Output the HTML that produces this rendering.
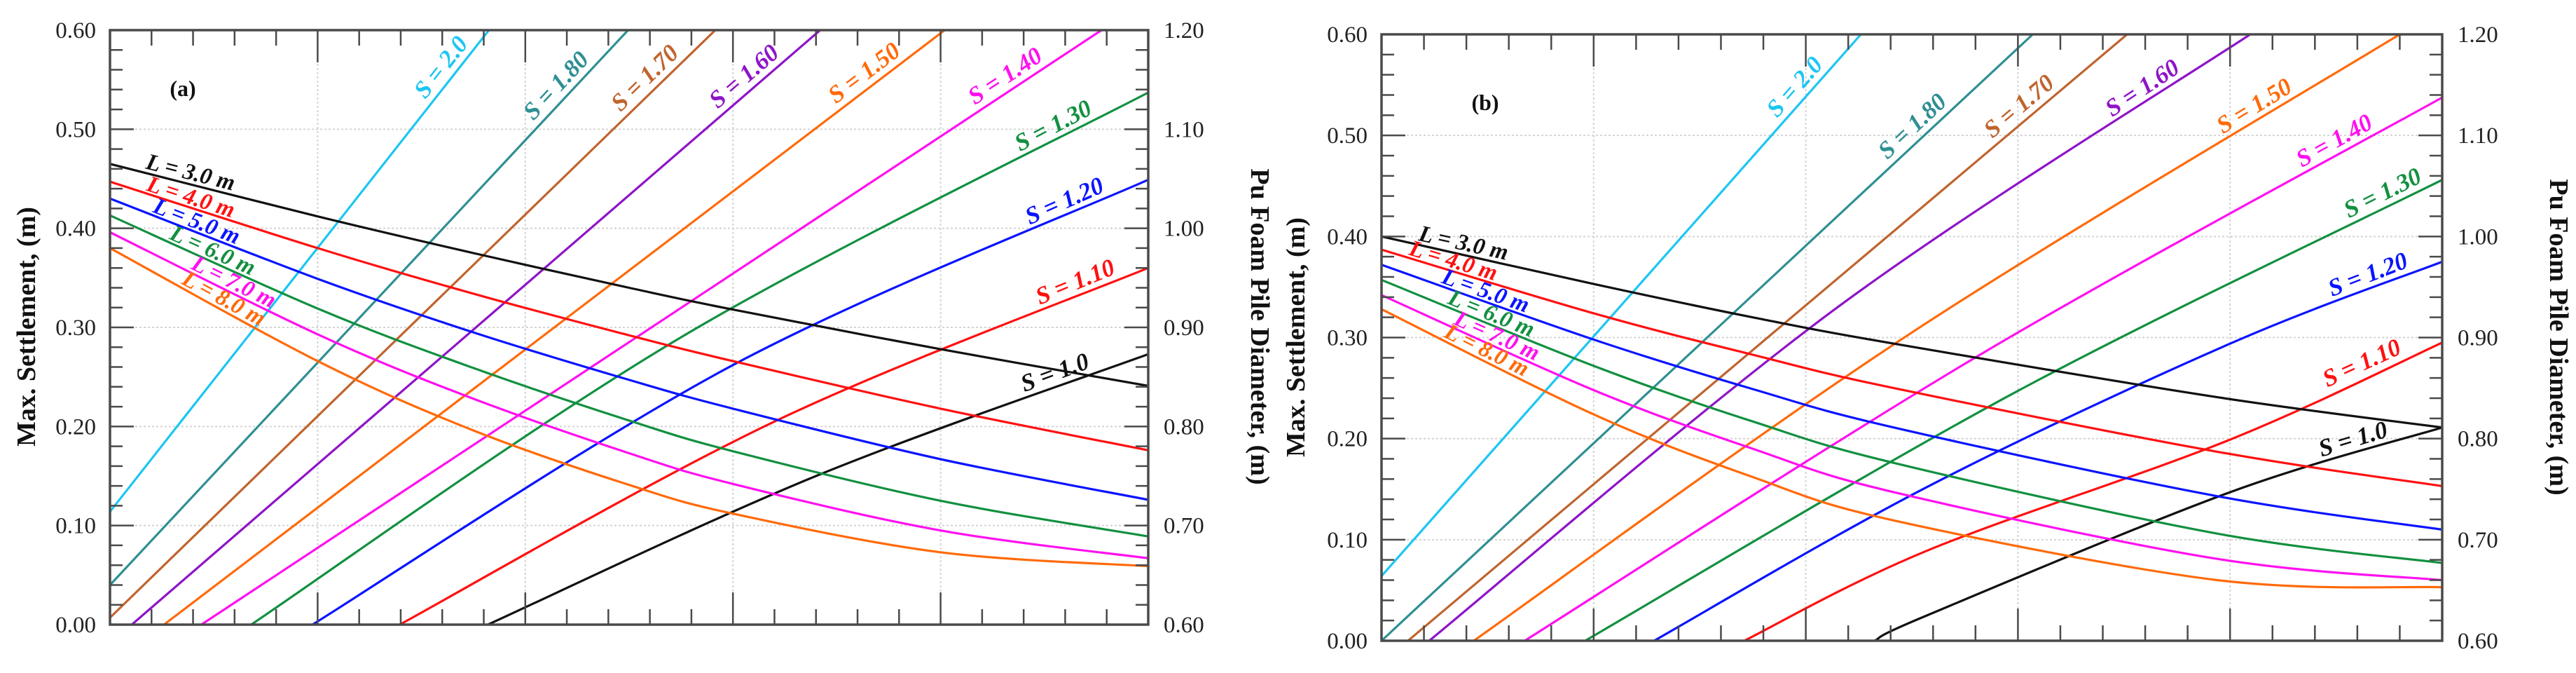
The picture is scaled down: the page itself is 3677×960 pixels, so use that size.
<!DOCTYPE html>
<html><head><meta charset="utf-8">
<style>
html,body{margin:0;padding:0;background:#fff;}
svg{display:block;}
text{font-family:"Liberation Serif","DejaVu Serif",serif;}
</style></head>
<body>
<svg id="chart" xmlns="http://www.w3.org/2000/svg" width="3677" height="960" viewBox="0 0 3677 960">
<rect width="3677" height="960" fill="#fff"/>
<g id="pa"></g>
<g id="pb"></g>
</svg>
<script>
// ---------- data: panel (a) ----------
const aLx = [0, 0.2, 0.35, 0.5, 0.6, 0.8, 1];
const aL3 = [0.465, 0.412, 0.375, 0.340, 0.318, 0.278, 0.241];
const aL4 = [0.447, 0.380, 0.334, 0.292, 0.266, 0.218, 0.176];
const aL5 = [0.430, 0.349, 0.295, 0.247, 0.218, 0.167, 0.126];
const aL6 = [0.413, 0.319, 0.259, 0.206, 0.175, 0.125, 0.089];
const aL7 = [0.396, 0.293, 0.228, 0.173, 0.142, 0.095, 0.067];
const aL8 = [0.380, 0.266, 0.196, 0.141, 0.112, 0.073, 0.059];
const aS20x = [0, 0.365];            const aS20y = [0.114, 0.6];
const aS18x = [0, 0.499];            const aS18y = [0.040, 0.6];
const aS17x = [0, 0.583];            const aS17y = [0.007, 0.6];
const aS16x = [0.021, 0.684];        const aS16y = [0, 0.6];
const aS15x = [0.052, 0.804];        const aS15y = [0, 0.6];
const aS14x = [0.088, 0.955];        const aS14y = [0, 0.6];
const aS13x = [0.136, 0.55, 1];                const aS13y = [0, 0.290, 0.537];
const aS12x = [0.195, 0.6, 1];                 const aS12y = [0, 0.262, 0.449];
const aS11x = [0.279, 0.64, 1];                const aS11y = [0, 0.205, 0.360];
const aS10x = [0.364, 0.68, 1];                const aS10y = [0, 0.150, 0.273];
// ---------- data: panel (b) ----------
const bLx = [0, 0.2, 0.35, 0.483, 0.788, 1];
const bL3 = [0.400, 0.353, 0.320, 0.294, 0.241, 0.211];
const bL4 = [0.387, 0.324, 0.283, 0.250, 0.187, 0.153];
const bL5 = [0.372, 0.298, 0.249, 0.211, 0.143, 0.110];
const bL6 = [0.357, 0.272, 0.217, 0.176, 0.106, 0.077];
const bL7 = [0.342, 0.248, 0.190, 0.147, 0.081, 0.060];
const bL8 = [0.328, 0.224, 0.162, 0.119, 0.060, 0.053];
const bS20x = [0, 0.452];            const bS20y = [0.064, 0.6];
const bS18x = [0, 0.614];            const bS18y = [0, 0.6];
const bS17x = [0.025, 0.703];        const bS17y = [0, 0.6];
const bS16x = [0.045, 0.43, 0.819];  const bS16y = [0, 0.330, 0.6];
const bS15x = [0.087, 0.5, 0.96];    const bS15y = [0, 0.305, 0.6];
const bS14x = [0.135, 0.5675, 1];    const bS14y = [0, 0.285, 0.5375];
const bS13x = [0.192, 0.596, 1];     const bS13y = [0, 0.245, 0.456];
const bS12x = [0.257, 0.514, 0.8, 1];     const bS12y = [0, 0.152, 0.294, 0.375];
const bS11x = [0.342, 0.514, 0.8, 1];     const bS11y = [0, 0.089, 0.199, 0.295];
const bS10x = [0.465, 0.514, 0.8, 1];     const bS10y = [0, 0.025, 0.147, 0.211];
// tick labels
const leftTicks = ["0.00","0.10","0.20","0.30","0.40","0.50","0.60"];
const rightTicks = ["0.60","0.70","0.80","0.90","1.00","1.10","1.20"];

const COL = {s20:"#1cc6f2", s18:"#2f8f93", s17:"#c0642e", s16:"#8e14c8", s15:"#ff6a0a",
  s14:"#ff10f0", s13:"#129040", s12:"#0a14ff", s11:"#ff1010", s10:"#111111",
  l3:"#111111", l4:"#ff1010", l5:"#0a14ff", l6:"#129040", l7:"#ff10f0", l8:"#ff6a0a"};

const NS = "http://www.w3.org/2000/svg";
function mk(tag, attrs, parent){
  const e = document.createElementNS(NS, tag);
  for (const k in attrs) e.setAttribute(k, attrs[k]);
  parent.appendChild(e); return e;
}
function interp(xs, ys, x){
  if (x <= xs[0]) { const s=(ys[1]-ys[0])/(xs[1]-xs[0]); return ys[0]+s*(x-xs[0]); }
  for (let i=1;i<xs.length;i++){ if (x<=xs[i]) { const t=(x-xs[i-1])/(xs[i]-xs[i-1]); return ys[i-1]+t*(ys[i]-ys[i-1]); } }
  const n=xs.length; const s=(ys[n-1]-ys[n-2])/(xs[n-1]-xs[n-2]); return ys[n-1]+s*(x-xs[n-1]);
}
function pathFor(p, xs, ys){
  const pts = xs.map((x,i)=>[p.sx(x), p.sy(ys[i])]);
  let d = "M"+pts[0][0].toFixed(1)+","+pts[0][1].toFixed(1);
  for (let i=0;i<pts.length-1;i++){
    const p0=pts[Math.max(0,i-1)], p1=pts[i], p2=pts[i+1], p3=pts[Math.min(pts.length-1,i+2)];
    const c1=[p1[0]+(p2[0]-p0[0])/6, p1[1]+(p2[1]-p0[1])/6];
    const c2=[p2[0]-(p3[0]-p1[0])/6, p2[1]-(p3[1]-p1[1])/6];
    d += " C"+c1[0].toFixed(1)+","+c1[1].toFixed(1)+" "+c2[0].toFixed(1)+","+c2[1].toFixed(1)+" "+p2[0].toFixed(1)+","+p2[1].toFixed(1);
  }
  return d;
}

function panel(g, P, cfg){
  P.sx = f => P.x0 + f*(P.x1-P.x0);
  P.sy = v => P.y1 - v/0.6*(P.y1-P.y0);
  const clipId = cfg.id+"clip";
  const cp = mk("clipPath",{id:clipId},g); mk("rect",{x:P.x0,y:P.y0,width:P.x1-P.x0,height:P.y1-P.y0},cp);
  for (let i=1;i<5;i++){
    const x=P.sx(i/5);
    const gl=mk("line",{x1:x,y1:P.y0,x2:x,y2:P.y1,stroke:"#d4d4d4","stroke-width":2,"stroke-dasharray":"3,3"},g);
    
    
  }
  for (let i=1;i<6;i++){
    const y=P.sy(i/10);
    const gl=mk("line",{x1:P.x0,y1:y,x2:P.x1,y2:y,stroke:"#d4d4d4","stroke-width":2,"stroke-dasharray":"3,3"},g);
    
    
  }
  const cg = mk("g",{"clip-path":"url(#"+clipId+")"},g);
  cfg.curves.forEach(c=>{
    const pa = mk("path",{d:pathFor(P,c.x,c.y),fill:"none",stroke:c.color,"stroke-width":3.2},cg);
    
    
  });
  const fr = mk("rect",{x:P.x0,y:P.y0,width:P.x1-P.x0,height:P.y1-P.y0,fill:"none",stroke:"#4a4a4a","stroke-width":3.5},g);
  
  
  for (let i=1;i<25;i++){
    const x=P.sx(i/25), len=(i%5===0)?46:22;
    mk("line",{x1:x,y1:P.y1,x2:x,y2:P.y1-len,stroke:"#4a4a4a","stroke-width":2.5},g);
    mk("line",{x1:x,y1:P.y0,x2:x,y2:P.y0+len,stroke:"#4a4a4a","stroke-width":2.5},g);
  }
  for (let i=1;i<30;i++){
    const y=P.sy(i*0.02), len=(i%5===0)?34:18;
    mk("line",{x1:P.x0,y1:y,x2:P.x0+len,y2:y,stroke:"#4a4a4a","stroke-width":2.5},g);
    mk("line",{x1:P.x1,y1:y,x2:P.x1-len,y2:y,stroke:"#4a4a4a","stroke-width":2.5},g);
  }
  leftTicks.forEach((t,i)=>{
    const tx=mk("text",{x:P.x0-20,y:P.sy(i*0.1)+11,"font-size":33,"text-anchor":"end",fill:"#222"},g);
    tx.textContent=t;
    
    
  });
  rightTicks.forEach((t,i)=>{
    const tx=mk("text",{x:P.x1+22,y:P.sy(i*0.1)+11,"font-size":33,"text-anchor":"start",fill:"#222"},g);
    tx.textContent=t;
    
    
  });
  const lt=mk("text",{x:0,y:0,"font-size":38,"font-weight":"bold","text-anchor":"middle",fill:"#111",
    transform:"translate("+cfg.ltX+","+cfg.tY+") rotate(-90)"},g);
  lt.textContent="Max. Settlement, (m)";
  
  
  const rt=mk("text",{x:0,y:0,"font-size":38,"font-weight":"bold","text-anchor":"middle",fill:"#111",
    transform:"translate("+cfg.rtX+","+cfg.tY+") rotate(90)"},g);
  rt.textContent="Pu Foam Pile Diameter, (m)";
  
  
  const pt=mk("text",{x:cfg.tag[0],y:cfg.tag[1],"font-size":32,"font-weight":"bold","text-anchor":"middle",fill:"#111"},g);
  pt.textContent=cfg.tagText;
  
  
  cfg.labels.forEach(l=>{
    const c=cfg.curves[l.ci];
    const d=0.01;
    const dx=P.sx(l.fx+d)-P.sx(l.fx-d);
    const dy=P.sy(interp(c.x,c.y,l.fx+d))-P.sy(interp(c.x,c.y,l.fx-d));
    const ang=Math.atan2(dy,dx)*180/Math.PI;
    const v=interp(c.x,c.y,l.fx);
    const t=mk("text",{x:0,y:(l.off===undefined?-10:l.off),"font-size":l.fs||35,"font-weight":"bold","font-style":"italic","text-anchor":"middle",
      fill:c.color,transform:"translate("+P.sx(l.fx).toFixed(1)+","+P.sy(v).toFixed(1)+") rotate("+ang.toFixed(1)+")"},g);
    t.textContent=l.t;
    
    
  });
}

const A = {x0:157,x1:1639,y0:43,y1:891};
const B = {x0:1972,x1:3486,y0:49,y1:914};

panel(document.getElementById("pa"), A, {
  id:"a", ltX:50, rtX:1786, tY:466, tag:[261,137], tagText:"(a)",
  curves:[
    {name:"s-2.0-curve",x:aS20x,y:aS20y,color:COL.s20},
    {name:"s-1.80-curve",x:aS18x,y:aS18y,color:COL.s18},
    {name:"s-1.70-curve",x:aS17x,y:aS17y,color:COL.s17},
    {name:"s-1.60-curve",x:aS16x,y:aS16y,color:COL.s16},
    {name:"s-1.50-curve",x:aS15x,y:aS15y,color:COL.s15},
    {name:"s-1.40-curve",x:aS14x,y:aS14y,color:COL.s14},
    {name:"s-1.30-curve",x:aS13x,y:aS13y,color:COL.s13},
    {name:"s-1.20-curve",x:aS12x,y:aS12y,color:COL.s12},
    {name:"s-1.10-curve",x:aS11x,y:aS11y,color:COL.s11},
    {name:"s-1.0-curve",x:aS10x,y:aS10y,color:COL.s10},
    {name:"l-3.0-curve",x:aLx,y:aL3,color:COL.l3},
    {name:"l-4.0-curve",x:aLx,y:aL4,color:COL.l4},
    {name:"l-5.0-curve",x:aLx,y:aL5,color:COL.l5},
    {name:"l-6.0-curve",x:aLx,y:aL6,color:COL.l6},
    {name:"l-7.0-curve",x:aLx,y:aL7,color:COL.l7},
    {name:"l-8.0-curve",x:aLx,y:aL8,color:COL.l8}
  ],
  labels:[
    {ci:0,t:"S = 2.0",fx:0.33},
    {ci:1,t:"S = 1.80",fx:0.44},
    {ci:2,t:"S = 1.70",fx:0.525},
    {ci:3,t:"S = 1.60",fx:0.62},
    {ci:4,t:"S = 1.50",fx:0.735},
    {ci:5,t:"S = 1.40",fx:0.87},
    {ci:6,t:"S = 1.30",fx:0.915},
    {ci:7,t:"S = 1.20",fx:0.925},
    {ci:8,t:"S = 1.10",fx:0.935},
    {ci:9,t:"S = 1.0",fx:0.915},
    {ci:10,t:"L = 3.0 m",fx:0.075,fs:33,off:-6},
    {ci:11,t:"L = 4.0 m",fx:0.075,fs:33,off:-4},
    {ci:12,t:"L = 5.0 m",fx:0.08,fs:33,off:-4},
    {ci:13,t:"L = 6.0 m",fx:0.095,fs:33,off:-4},
    {ci:14,t:"L = 7.0 m",fx:0.115,fs:33,off:-4},
    {ci:15,t:"L = 8.0 m",fx:0.105,fs:33,off:-4}
  ]
});

panel(document.getElementById("pb"), B, {
  id:"b", ltX:1862, rtX:3640, tY:481, tag:[2120,157], tagText:"(b)",
  curves:[
    {name:"s-2.0-curve",x:bS20x,y:bS20y,color:COL.s20},
    {name:"s-1.80-curve",x:bS18x,y:bS18y,color:COL.s18},
    {name:"s-1.70-curve",x:bS17x,y:bS17y,color:COL.s17},
    {name:"s-1.60-curve",x:bS16x,y:bS16y,color:COL.s16},
    {name:"s-1.50-curve",x:bS15x,y:bS15y,color:COL.s15},
    {name:"s-1.40-curve",x:bS14x,y:bS14y,color:COL.s14},
    {name:"s-1.30-curve",x:bS13x,y:bS13y,color:COL.s13},
    {name:"s-1.20-curve",x:bS12x,y:bS12y,color:COL.s12},
    {name:"s-1.10-curve",x:bS11x,y:bS11y,color:COL.s11},
    {name:"s-1.0-curve",x:bS10x,y:bS10y,color:COL.s10},
    {name:"l-3.0-curve",x:bLx,y:bL3,color:COL.l3},
    {name:"l-4.0-curve",x:bLx,y:bL4,color:COL.l4},
    {name:"l-5.0-curve",x:bLx,y:bL5,color:COL.l5},
    {name:"l-6.0-curve",x:bLx,y:bL6,color:COL.l6},
    {name:"l-7.0-curve",x:bLx,y:bL7,color:COL.l7},
    {name:"l-8.0-curve",x:bLx,y:bL8,color:COL.l8}
  ],
  labels:[
    {ci:0,t:"S = 2.0",fx:0.40},
    {ci:1,t:"S = 1.80",fx:0.51},
    {ci:2,t:"S = 1.70",fx:0.61},
    {ci:3,t:"S = 1.60",fx:0.725},
    {ci:4,t:"S = 1.50",fx:0.83},
    {ci:5,t:"S = 1.40",fx:0.905},
    {ci:6,t:"S = 1.30",fx:0.95},
    {ci:7,t:"S = 1.20",fx:0.935},
    {ci:8,t:"S = 1.10",fx:0.93},
    {ci:9,t:"S = 1.0",fx:0.92},
    {ci:10,t:"L = 3.0 m",fx:0.075,fs:33,off:-6},
    {ci:11,t:"L = 4.0 m",fx:0.065,fs:33,off:-4},
    {ci:12,t:"L = 5.0 m",fx:0.095,fs:33,off:-4},
    {ci:13,t:"L = 6.0 m",fx:0.10,fs:33,off:-4},
    {ci:14,t:"L = 7.0 m",fx:0.105,fs:33,off:-4},
    {ci:15,t:"L = 8.0 m",fx:0.095,fs:33,off:-4}
  ]
});
</script>
</body></html>
